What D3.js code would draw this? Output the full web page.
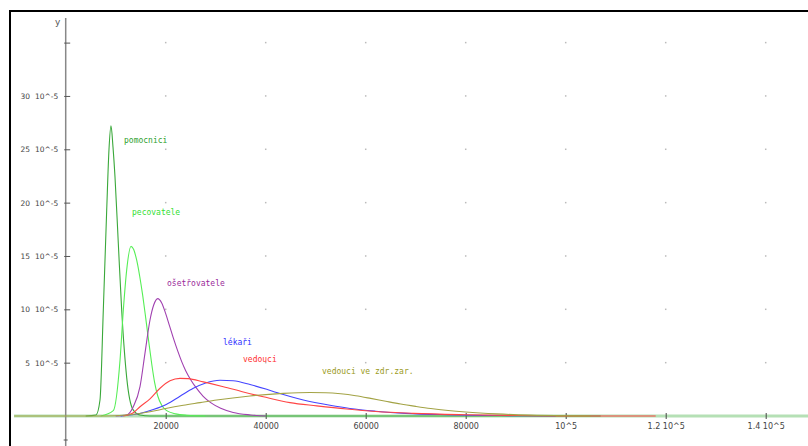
<!DOCTYPE html>
<html><head><meta charset="utf-8">
<script src="https://cdn.jsdelivr.net/npm/d3@7"></script>
<style>body{margin:0;background:#fff}svg{display:block}</style>
</head><body><svg id="c" width="808" height="446"></svg>
<script>
// x: monthly wage (CZK), y: density in units of 10^-5
const xTicks = [20000, 40000, 60000, 80000, 100000, 120000, 140000];
const xTickLabels = ["20000", "40000", "60000", "80000", "10^5", "1.2 10^5", "1.4 10^5"];
const yTicks = [5, 10, 15, 20, 25, 30, 35];
const yTickLabels = ["5  10^-5", "10  10^-5", "15  10^-5", "20  10^-5", "25  10^-5", "30  10^-5", ""];

const pomocnici = [[4000,0],[6060,0.1],[6860,1.5],[7520,9.9],[8200,19.3],[8660,25],[9060,27.2],[9460,25.2],[9860,22.4],[10520,16.2],[11200,9.9],[12200,3.6],[13460,0.6],[14860,0.1],[16860,0],[107000,0]];
const pecovatele = [[7000,0],[9520,0.5],[10860,5.2],[11520,9.9],[12200,13.7],[13060,15.9],[13600,15.6],[14200,14.6],[14800,13.1],[15400,11.3],[16000,9.2],[16600,7.0],[17200,4.9],[17800,3.1],[18400,1.9],[19200,1.0],[20200,0.5],[22000,0.2],[24200,0.07],[28000,0]];
const osetrovatele = [[10000,0],[12200,0.1],[13520,0.87],[14860,2.75],[15860,5.9],[16860,9.0],[17600,10.4],[18400,11.0],[19200,10.6],[20000,9.6],[20800,8.4],[21600,7.2],[22400,6.1],[23200,5.1],[24000,4.25],[25000,3.4],[26000,2.7],[27500,1.85],[29000,1.25],[31000,0.72],[33500,0.33],[37000,0.1],[40000,0]];
const lekari = [[11000,0],[15000,0.25],[17520,0.6],[20200,1.1],[22860,1.85],[25520,2.6],[28000,3.1],[30860,3.35],[33500,3.3],[36860,2.95],[40200,2.5],[42200,2.2],[47520,1.5],[52860,1.0],[56860,0.7],[62000,0.45],[68000,0.25],[76000,0.12],[90000,0.03],[98000,0]];
const vedouci = [[11500,0],[13520,0.3],[14860,0.87],[16860,1.6],[18860,2.6],[20860,3.3],[22860,3.53],[24500,3.5],[27520,3.2],[31520,2.75],[35520,2.25],[39520,1.8],[44860,1.25],[50200,0.95],[56200,0.65],[62000,0.42],[69460,0.25],[80000,0.12],[93000,0.03],[100000,0],[118000,0]];
const vedouciZdr = [[-10300,0],[8000,0],[12200,0.1],[16860,0.4],[20000,0.7],[23520,1.0],[26860,1.25],[30200,1.5],[36860,1.88],[43520,2.12],[48860,2.2],[52000,2.18],[55000,2.08],[58000,1.9],[61000,1.65],[64000,1.38],[67000,1.12],[70000,0.9],[73000,0.7],[76500,0.52],[80000,0.38],[86200,0.2],[92860,0.08],[100000,0.02],[105000,0]];

const seriesNames = ["pomocnici", "pecovatele", "ošetřovatele", "lékaři", "vedouci", "vedouci ve zdr.zar."];
const seriesData = [pomocnici, pecovatele, osetrovatele, lekari, vedouci, vedouciZdr];
const seriesColors = ["#3aa83a", "#55ee55", "#a040b0", "#4545ff", "#ff4545", "#a3a345"];
const labelColors = ["#2f9f2f", "#33e033", "#9a2a9a", "#2f2fff", "#ff2f2f", "#9a9a1a"];
// label anchor points in data coordinates
const labelX = [11660, 13260, 20260, 31460, 35460, 51260];
const labelY = [25.6, 18.8, 12.2, 6.7, 5.1, 3.9];

const svg = d3.select("#c");
const x = d3.scaleLinear().domain([0, 140000]).range([65.7, 765.7]);
const y = d3.scaleLinear().domain([0, 35]).range([416, 42.6]);

// frame
svg.append("rect").attr("x", 10).attr("y", 11).attr("width", 900).attr("height", 600)
  .attr("fill", "none").attr("stroke", "#000").attr("stroke-width", 2);

// grid dots
const g = svg.append("g");
xTicks.forEach(xt => yTicks.forEach(yt => {
  g.append("rect").attr("x", x(xt) - 0.75).attr("y", y(yt) - 0.75).attr("width", 1.5).attr("height", 1.5).attr("fill", "#bbb");
}));

// x axis line
svg.append("line").attr("x1", 14).attr("x2", 808).attr("y1", y(0)).attr("y2", y(0))
  .attr("stroke", "#b5e0b5").attr("stroke-width", 3);

// y axis
svg.append("line").attr("x1", x(0)).attr("x2", x(0)).attr("y1", 18).attr("y2", 446)
  .attr("stroke", "#888").attr("stroke-width", 1.5);
svg.append("text").attr("x", 55).attr("y", 25).attr("font-family", "DejaVu Sans").attr("font-size", 9).attr("fill", "#555").text("y");

const yAxis = d3.axisLeft(y).tickValues(yTicks).tickSize(3).tickFormat((d, i) => yTickLabels[i]);
const ya = svg.append("g").attr("transform", `translate(${x(0)+1.5},0)`).call(yAxis);
ya.select(".domain").remove();
ya.selectAll(".tick line").attr("stroke", "#555").attr("x2", 3).attr("x1", -3);
ya.selectAll(".tick text").attr("font-family", "DejaVu Sans").attr("font-size", 7.5).attr("fill", "#444").attr("x", -9).style("white-space", "pre").attr("xml:space", "preserve");
// small tick below axis
svg.append("line").attr("x1", x(0) - 2).attr("x2", x(0) + 2).attr("y1", y(-2.25)).attr("y2", y(-2.25)).attr("stroke", "#555");

const xAxis = d3.axisBottom(x).tickValues(xTicks).tickSize(3).tickFormat((d, i) => xTickLabels[i]);
const xa = svg.append("g").attr("transform", `translate(0,${y(0)})`).call(xAxis);
xa.select(".domain").remove();
xa.selectAll(".tick line").attr("stroke", "#444").attr("y1", -3).attr("y2", 3);
xa.selectAll(".tick text").attr("font-family", "DejaVu Sans").attr("font-size", 8).attr("fill", "#444").attr("dy", "0.9em");

// curves
const line = d3.line().x(d => x(d[0])).y(d => y(d[1])).curve(d3.curveMonotoneX);
seriesData.forEach((s, i) => {
  svg.append("path").attr("d", line(s)).attr("fill", "none").attr("stroke", seriesColors[i]).attr("stroke-width", 1.1);
});

// labels
seriesNames.forEach((n, i) => {
  svg.append("text").attr("x", x(labelX[i])).attr("y", y(labelY[i])).attr("font-family", "DejaVu Sans Mono")
    .attr("font-size", 8).attr("fill", labelColors[i]).text(n);
});
</script></body></html>
